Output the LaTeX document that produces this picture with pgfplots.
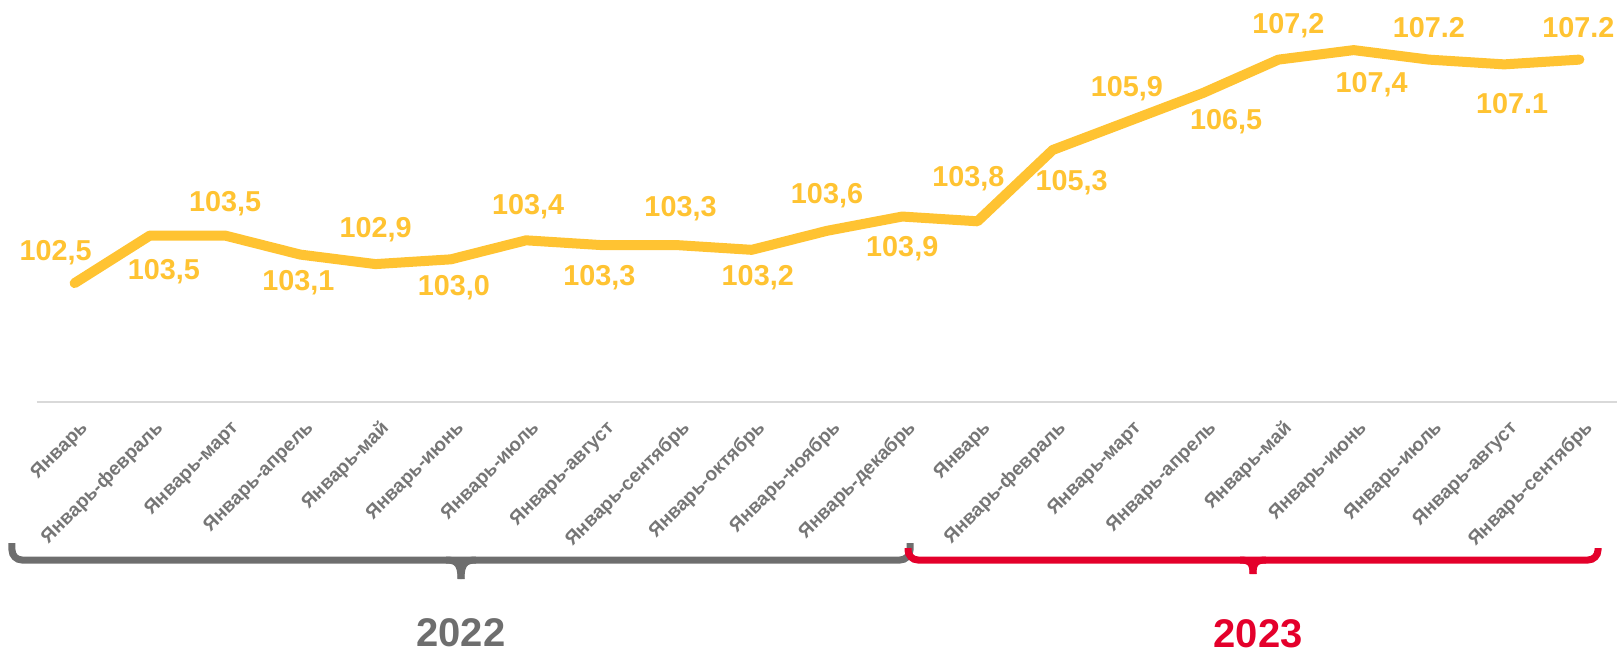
\documentclass[border=0pt]{standalone}
\usepackage{fontspec}
\setmainfont{Liberation Sans}
\usepackage{pgfplots}
\pgfplotsset{compat=1.18}

\definecolor{lineyel}{RGB}{255,195,50}
\definecolor{bracegray}{RGB}{110,110,110}
\definecolor{ticktext}{RGB}{118,118,118}
\definecolor{yearred}{RGB}{228,0,43}
\definecolor{axisgray}{RGB}{217,217,217}

\begin{document}
\begin{tikzpicture}
% page = 1621x654 px, 1 px = 0.5 pt, axis box lower left at (0,0)
\path[use as bounding box] (-18.5pt,-126pt) rectangle (792pt,201pt);

\begin{axis}[
    scale only axis,
    width=790pt, height=201pt,
    xmin=-0.5, xmax=20.5,
    ymin=100, ymax=108.454,
    clip=false,
    axis x line=bottom,
    axis y line=none,
    x axis line style={-, draw=axisgray, line width=0.8pt},
    major tick length=0pt,
    ytick=\empty,
    xtick={0,...,20},
    xticklabels={Январь, Январь-февраль, Январь-март, Январь-апрель, Январь-май,
        Январь-июнь, Январь-июль, Январь-август, Январь-сентябрь, Январь-октябрь,
        Январь-ноябрь, Январь-декабрь, Январь, Январь-февраль, Январь-март,
        Январь-апрель, Январь-май, Январь-июнь, Январь-июль, Январь-август,
        Январь-сентябрь},
    xticklabel style={rotate=45, anchor=east, inner sep=0pt, yshift=-12pt, xshift=-4.5pt,
        font=\fontsize{9.6}{11}\selectfont\bfseries, text=ticktext},
]
\addplot[
    draw=lineyel, line width=5pt, line join=round, line cap=round,
    point meta=explicit symbolic,
    nodes near coords,
    visualization depends on={\thisrow{dx}\as\dx},
    visualization depends on={\thisrow{dy}\as\dy},
    every node near coord/.append style={anchor=center, inner sep=0pt,
        xshift={\dx*0.5pt}, yshift={\dy*0.5pt},
        font=\fontsize{14.4}{16}\selectfont\bfseries, text=lineyel},
] table[x=x, y=y, meta=lab] {
x  y     lab    dx   dy
0  102.5 102,5  -19  30
1  103.5 103,5  14   -36
2  103.5 103,5  0    32
3  103.1 103,1  -2   -28
4  102.9 102,9  0    34
5  103.0 103,0  3    -28
6  103.4 103,4  2    34
7  103.3 103,3  -2   -33
8  103.3 103,3  4    36
9  103.2 103,2  6    -28
10 103.6 103,6  0    35
11 103.9 103,9  0    -32
12 103.8 103,8  -9   43
13 105.3 105,3  19   -33
14 105.9 105,9  -1   33
15 106.5 106,5  23   -29
16 107.2 107,2  10   34
17 107.4 107,4  18   -35
18 107.2 107.2  0    32
19 107.1 107.1  8    -39
20 107.2 107.2  -1   32
};
\end{axis}

% braces and years, in pixel units of the reference
\begin{scope}[x=0.5pt, y=-0.5pt, shift={(-37,-402)}]
  \draw[bracegray, line width=3.5pt, rounded corners=5pt]
    (12,543) -- (12,560) -- (910,560) -- (910,543);
  \draw[bracegray, line width=3.5pt]
    (446,560) .. controls (457,560) and (461,564) .. (461,579);
  \draw[bracegray, line width=3.5pt]
    (476,560) .. controls (465,560) and (461,564) .. (461,579);
  \draw[yearred, line width=3.5pt, rounded corners=5pt]
    (908,548) -- (908,560) -- (1598,560) -- (1598,548);
  \draw[yearred, line width=3.5pt]
    (1240,560) .. controls (1250,560) and (1253,563) .. (1253,574);
  \draw[yearred, line width=3.5pt]
    (1266,560) .. controls (1256,560) and (1253,563) .. (1253,574);
  \node[text=bracegray, font=\fontsize{20}{24}\selectfont\bfseries] at (461,633) {2022};
  \node[text=yearred, font=\fontsize{20}{24}\selectfont\bfseries] at (1258,634) {2023};
\end{scope}
\end{tikzpicture}
\end{document}
